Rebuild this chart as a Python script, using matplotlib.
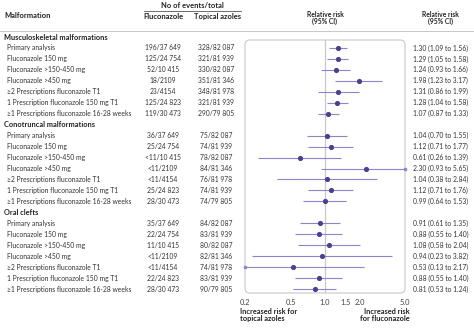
import matplotlib
matplotlib.use("Agg")
import matplotlib.pyplot as plt
from matplotlib.patches import FancyBboxPatch
from matplotlib.transforms import blended_transform_factory
import numpy as np

groups = ["Musculoskeletal malformations", "Conotruncal malformations", "Oral clefts"]
analyses = ["Primary analysis", "Fluconazole 150 mg", "Fluconazole >150-450 mg",
            "Fluconazole >450 mg", "\u22652 Prescriptions fluconazole T1",
            "1 Prescription fluconazole 150 mg T1",
            "\u22651 Prescriptions fluconazole 16-28 weeks"]

flu_events = [
    ["196/37 649", "125/24 754", "52/10 415", "18/2109", "23/4154", "125/24 823", "119/30 473"],
    ["36/37 649", "25/24 754", "<11/10 415", "<11/2109", "<11/4154", "25/24 823", "28/30 473"],
    ["35/37 649", "22/24 754", "11/10 415", "<11/2109", "<11/4154", "22/24 823", "28/30 473"],
]
top_events = [
    ["328/82 087", "321/81 939", "330/82 087", "351/81 346", "348/81 978", "321/81 939", "290/79 805"],
    ["75/82 087", "74/81 939", "78/82 087", "84/81 346", "76/81 978", "74/81 939", "74/79 805"],
    ["84/82 087", "83/81 939", "80/82 087", "82/81 346", "74/81 978", "83/81 939", "90/79 805"],
]
rr = [
    [1.30, 1.29, 1.24, 1.98, 1.31, 1.28, 1.07],
    [1.04, 1.12, 0.61, 2.30, 1.04, 1.12, 0.99],
    [0.91, 0.88, 1.08, 0.94, 0.53, 0.88, 0.81],
]
lo = [
    [1.09, 1.05, 0.93, 1.23, 0.86, 1.04, 0.87],
    [0.70, 0.71, 0.26, 0.93, 0.38, 0.71, 0.64],
    [0.61, 0.55, 0.58, 0.23, 0.13, 0.55, 0.53],
]
hi = [
    [1.56, 1.58, 1.66, 3.17, 1.99, 1.58, 1.33],
    [1.55, 1.77, 1.39, 5.65, 2.84, 1.76, 1.53],
    [1.35, 1.40, 2.04, 3.82, 2.17, 1.40, 1.24],
]
xticks = [0.2, 0.5, 1.0, 1.5, 2.0, 5.0]
xlim = (0.2, 5.0)

W, H = 474, 328
fig = plt.figure(figsize=(W / 100, H / 100), dpi=100)
FONT = "Lato"
plt.rcParams["font.family"] = [FONT, "DejaVu Sans"]
FS = 4.9
TXT = "#333333"
MARK = "#4b3f8f"
LINE = "#8e84c9"
GRID = "#c8c8c8"

def fx(x):
    return x / W

def fy(y):
    return 1 - y / H

# forest axes
ax_l, ax_r, ax_t, ax_b = 245, 405, 40, 293
ax = fig.add_axes([fx(ax_l), fy(ax_b), fx(ax_r - ax_l), (ax_b - ax_t) / H])
ax.set_xscale("log")
ax.set_xlim(*xlim)
row0, step = 37.0, 10.96
ax.set_ylim((ax_b - row0) / step, (ax_t - row0) / step)
for s in ax.spines.values():
    s.set_visible(False)
ax.set_yticks([])
ax.set_xticks(xticks)
ax.set_xticklabels([f"{t:.1f}" for t in xticks], fontsize=FS + 0.5, color="#444444")
ax.minorticks_off()
ax.tick_params(axis="x", length=0, pad=4)
ax.patch.set_alpha(0)

box = FancyBboxPatch((0, 0), 1, 1, boxstyle="round,pad=0,rounding_size=0.03",
                     transform=ax.transAxes, fill=False, edgecolor=GRID, lw=0.8,
                     clip_on=False, mutation_aspect=160 / 253)
ax.add_patch(box)
ax.axvline(1.0, color=GRID, lw=0.9, zorder=1)

trans = blended_transform_factory(fig.transFigure, ax.transData)

i = 0
for g in range(3):
    t = fig.text(fx(4), 0, groups[g], transform=trans, fontsize=FS + 0.4, fontweight="bold",
                 color="#222222", va="center", ha="left")
    t.set_y(i)
    i += 1
    for k in range(7):
        fig.text(fx(7), i, analyses[k], transform=trans, fontsize=FS, color=TXT,
                 va="center", ha="left")
        fig.text(fx(163), i, flu_events[g][k], transform=trans, fontsize=FS, color=TXT,
                 va="center", ha="center")
        fig.text(fx(216), i, top_events[g][k], transform=trans, fontsize=FS, color=TXT,
                 va="center", ha="center")
        fig.text(fx(413), i, f"{rr[g][k]:.2f} ({lo[g][k]:.2f} to {hi[g][k]:.2f})",
                 transform=trans, fontsize=FS, color=TXT, va="center", ha="left")
        l = max(lo[g][k], xlim[0])
        h = min(hi[g][k], xlim[1])
        ax.plot([l, h], [i, i], color=LINE, lw=0.8, solid_capstyle="butt", zorder=2,
                clip_on=False)
        if lo[g][k] < xlim[0]:
            ax.plot([l], [i], "o", color=LINE, ms=1.6, zorder=2, clip_on=False)
        if hi[g][k] > xlim[1]:
            ax.plot([h], [i], "o", color=LINE, ms=1.6, zorder=2, clip_on=False)
        ax.plot([rr[g][k]], [i], "o", color=MARK, ms=2.7, zorder=3)
        i += 1

# headers
fig.text(fx(192), fy(6), "No of events/total", fontsize=FS + 0.5, fontweight="bold",
         color="#222222", ha="center", va="center")
fig.add_artist(plt.Line2D([fx(144), fx(241)], [fy(10.5), fy(10.5)], color="#555555", lw=0.6))
fig.text(fx(4), fy(16), "Malformation", fontsize=FS + 0.5, fontweight="bold",
         color="#222222", ha="left", va="center")
fig.text(fx(163), fy(16.5), "Fluconazole", fontsize=FS + 0.5, fontweight="bold",
         color="#222222", ha="center", va="center")
fig.text(fx(217), fy(16.5), "Topical azoles", fontsize=FS + 0.5, fontweight="bold",
         color="#222222", ha="center", va="center")
fig.text(fx(325), fy(18), "Relative risk\n(95% CI)", fontsize=FS, fontweight="bold",
         color="#222222", ha="center", va="center", linespacing=1.1)
fig.text(fx(440), fy(18), "Relative risk\n(95% CI)", fontsize=FS, fontweight="bold",
         color="#222222", ha="center", va="center", linespacing=1.1)
fig.add_artist(plt.Line2D([0, 1], [fy(30.5), fy(30.5)], color=GRID, lw=0.7))

# bottom annotations
fig.text(fx(240), fy(315), "Increased risk for\ntopical azoles", fontsize=FS + 0.4,
         fontweight="bold", color="#222222", ha="left", va="center", linespacing=1.1)
fig.text(fx(410), fy(315), "Increased risk\nfor fluconazole", fontsize=FS + 0.4,
         fontweight="bold", color="#222222", ha="right", va="center", linespacing=1.1)

fig.savefig("out.png", dpi=100)
